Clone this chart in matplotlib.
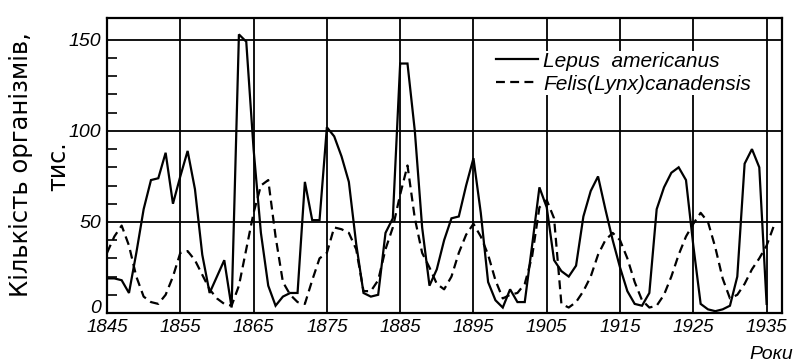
import matplotlib
matplotlib.use("Agg")
import matplotlib.pyplot as plt

# Hudson's Bay fur returns, thousands of pelts per year
hare_years = list(range(1845, 1936))
hare = [
    19, 19, 18, 11, 33, 57, 73, 74, 88, 60,      # 1845-1854
    75, 89, 68, 32, 11, 20, 29, 3, 153, 149,     # 1855-1864
    90, 44, 15, 4, 9, 11, 11, 72, 51, 51,        # 1865-1874
    102, 97, 86, 72, 38, 11, 9, 10, 44, 52,      # 1875-1884
    137, 137, 100, 47, 15, 24, 40, 52, 53, 70,   # 1885-1894
    85, 55, 17, 7, 3, 13, 6, 6, 37, 69,          # 1895-1904
    58, 29, 23, 20, 26, 53, 67, 75, 57, 40,      # 1905-1914
    25, 12, 5, 4, 11, 57, 69, 77, 80, 73,        # 1915-1924
    37, 5, 2, 1, 2, 4, 20, 82, 90, 80,           # 1925-1934
    5,                                           # 1935
]

lynx_years = list(range(1845, 1937))
lynx = [
    33, 42, 48, 37, 20, 9, 6, 5, 10, 20,         # 1845-1854
    33, 34, 29, 21, 13, 8, 5, 4, 15, 35,         # 1855-1864
    55, 70, 73, 42, 17, 10, 6, 5, 18, 30,        # 1865-1874
    33, 47, 46, 44, 35, 12, 12, 18, 35, 47,      # 1875-1884
    65, 81, 52, 33, 25, 16, 13, 20, 33, 43,      # 1885-1894
    49, 42, 32, 18, 8, 10, 11, 16, 31, 58,       # 1895-1904
    62, 52, 5, 3, 6, 12, 20, 32, 40, 44,         # 1905-1914
    40, 30, 17, 7, 3, 4, 10, 20, 32, 42,         # 1915-1924
    49, 55, 50, 36, 19, 8, 10, 16, 24, 30,       # 1925-1934
    37, 48,                                      # 1935-1936
]

x_ticks = list(range(1845, 1936, 10))
y_ticks = [0, 50, 100, 150]

W, H = 803, 363
fig = plt.figure(figsize=(W / 100, H / 100), dpi=100)
ax = fig.add_axes([107 / W, 1 - 313 / H, (782 - 107) / W, (313 - 18) / H])

ax.plot(hare_years, hare, color="black", lw=1.6, solid_joinstyle="miter",
        label="Lepus  americanus")
ax.plot(lynx_years, lynx, color="black", lw=1.6, linestyle=(0, (4, 2.4)),
        label="Felis(Lynx)canadensis")

ax.set_xlim(1845, 1937.1)
ax.set_ylim(0, 162)
ax.set_xticks(x_ticks)
ax.set_yticks(y_ticks)
ax.set_yticks(range(0, 160, 10), minor=True)
ax.grid(True, which="major", color="black", lw=1.3)
ax.set_axisbelow(True)

for side in ax.spines.values():
    side.set_linewidth(1.6)

ax.tick_params(axis="x", length=0, pad=4.5)
ax.tick_params(axis="y", which="major", length=0, pad=4)
ax.tick_params(axis="y", which="minor", direction="in", length=7, width=1.2)

ax.set_xticklabels([str(t) for t in x_ticks], family="Liberation Sans",
                   style="italic", fontsize=13.5)
ylabels = ax.set_yticklabels([str(t) for t in y_ticks],
                             family="Liberation Sans", style="italic",
                             fontsize=14)
# the zero sits on the corner, lift it clear of the first year label
ylabels[0].set_verticalalignment("baseline")

# white box, no frame: it hides the grid behind the legend text
leg = ax.legend(loc="upper left", bbox_to_anchor=(0.56, 0.925),
                prop={"family": "Liberation Sans", "style": "italic",
                      "size": 15},
                handlelength=2.0, handletextpad=0.25, labelspacing=0.2,
                borderpad=0.05, frameon=True, fancybox=False,
                facecolor="white", edgecolor="none", framealpha=1)

fig.text(21 / W, 1 - 165 / H, "Кількість організмів,", rotation=90,
         ha="center", va="center", fontsize=17.5, family="DejaVu Sans")
fig.text(58 / W, 1 - 166 / H, "тис.", rotation=90,
         ha="center", va="center", fontsize=17, family="DejaVu Sans")
fig.text(771 / W, 1 - 362.7 / H, "Роки", ha="center", va="bottom",
         fontsize=14, family="Liberation Sans", style="italic")

fig.savefig("out.png", dpi=100, facecolor="white")
